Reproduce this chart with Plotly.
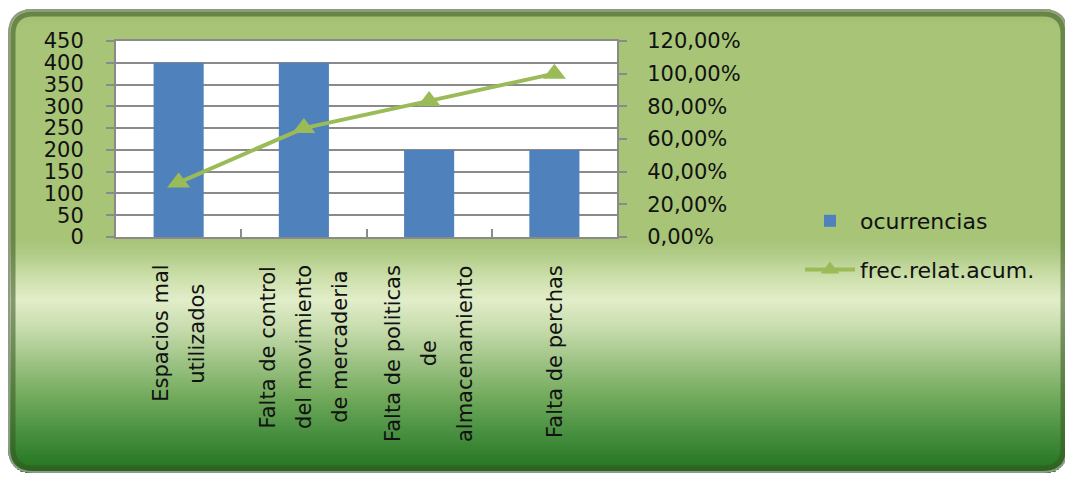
import math
import plotly.graph_objects as go

# ---------------- data ----------------
category_lines = [
    ["Espacios mal", "utilizados"],
    ["Falta de control", "del movimiento", "de mercaderia"],
    ["Falta de politicas", "de", "almacenamiento"],
    ["Falta de perchas"],
]
categories = [" ".join(l) for l in category_lines]
ocurrencias = [400, 400, 200, 200]
frec_relat_acum = [0.3333, 0.6667, 0.8333, 1.0]
y_left_ticks = [0, 50, 100, 150, 200, 250, 300, 350, 400, 450]
y_right_ticks = [0, 0.2, 0.4, 0.6, 0.8, 1.0, 1.2]

# ---------------- layout geometry ----------------
OFF = 8                      # page body margin offset
W, H = 1073 - OFF, 477 - OFF
PL, PT, PR, PB = 116, 41, 617, 237  # plot area in page px
FONT = "DejaVu Sans"
TXT = "#111111"


def px(x):
    return (x - PL) / (PR - PL)


def py(y):
    return (PB - y) / (PB - PT)


def hex2rgb(h):
    h = h.lstrip("#")
    return tuple(int(h[i:i + 2], 16) for i in (0, 2, 4))


stops = [
    (8, "#9fbd6d"), (25, "#a7c477"), (240, "#a7c477"), (255, "#b2cc88"),
    (280, "#cfe1ae"), (300, "#e2edc9"), (330, "#c5dbab"), (363, "#9cc283"),
    (397, "#72aa5c"), (430, "#4b9242"), (463, "#2a7a26"), (474, "#1f6a1c"),
]


def color_at(y):
    for (y0, c0), (y1, c1) in zip(stops[:-1], stops[1:]):
        if y0 <= y <= y1:
            t = (y - y0) / (y1 - y0)
            a, b = hex2rgb(c0), hex2rgb(c1)
            return "rgb(%d,%d,%d)" % tuple(round(a[k] + (b[k] - a[k]) * t) for k in range(3))
    return stops[-1][1] if y > stops[-1][0] else stops[0][1]


FX0, FY0, FX1, FY1, RAD = 8, 9, 1068, 473, 24
shapes = []
y = FY0
while y < FY1:
    yc = y + 1
    if yc < FY0 + RAD:
        d = FY0 + RAD - yc
    elif yc > FY1 - RAD:
        d = yc - (FY1 - RAD)
    else:
        d = 0
    inset = RAD - math.sqrt(max(RAD * RAD - d * d, 0)) if d > 0 else 0
    shapes.append(dict(type="rect", xref="paper", yref="paper", layer="below",
                       x0=px(FX0 + inset), x1=px(FX1 - inset), y0=py(y), y1=py(min(y + 3, FY1)),
                       fillcolor=color_at(yc), line=dict(width=0)))
    y += 2

# white plot area
shapes.append(dict(type="rect", xref="paper", yref="paper", layer="below",
                   x0=0, x1=1, y0=0, y1=1, fillcolor="white", line=dict(width=0)))


def rrect(x0, y0, x1, y1, r):
    pts = [
        ("M", [(x0 + r, y0)]), ("L", [(x1 - r, y0)]), ("Q", [(x1, y0), (x1, y0 + r)]),
        ("L", [(x1, y1 - r)]), ("Q", [(x1, y1), (x1 - r, y1)]), ("L", [(x0 + r, y1)]),
        ("Q", [(x0, y1), (x0, y1 - r)]), ("L", [(x0, y0 + r)]), ("Q", [(x0, y0), (x0 + r, y0)]),
    ]
    s = ""
    for cmd, ps in pts:
        s += cmd + " ".join("%.5f,%.5f" % (px(a), py(b)) for a, b in ps) + " "
    return s + "Z"


shapes.append(dict(type="path", xref="paper", yref="paper", layer="below",
                   path=rrect(13, 14, 1063, 468, 20),
                   line=dict(color="rgba(55,85,35,0.55)", width=5)))
shapes.append(dict(type="path", xref="paper", yref="paper", layer="below",
                   path=rrect(FX0 + 1, FY0 + 1, FX1 - 1, FY1 - 1, RAD),
                   line=dict(color="#8f9a88", width=2)))

# ---------------- traces ----------------
fig = go.Figure()
fig.add_trace(go.Bar(x=categories, y=ocurrencias, name="ocurrencias",
                     marker=dict(color="#4f81bd", line=dict(width=0)), width=0.4,
                     legendgroup="a", yaxis="y"))
fig.add_trace(go.Scatter(x=categories, y=frec_relat_acum, name="frec.relat.acum.",
                         mode="lines+markers", line=dict(color="#9bbb59", width=4),
                         marker=dict(symbol="triangle-up", size=20, color="#9bbb59"),
                         legendgroup="b", yaxis="y2"))

# category labels (rotated, centred lines)
LINE_GAP = 36.0
native = 1.3 * 21
annotations = []
for i, lines in enumerate(category_lines):
    n = len(lines)
    for j in range(n):
        parts = []
        for k, ln in enumerate(lines):
            parts.append(ln if k == j else "<span style='color:rgba(0,0,0,0)'>%s</span>" % ln)
        annotations.append(dict(
            x=categories[i], xref="x", y=py(263), yref="paper",
            xanchor="center", yanchor="top", textangle=-90, align="center",
            showarrow=False, text="<br>".join(parts),
            xshift=(j - (n - 1) / 2) * (LINE_GAP - native),
            font=dict(family=FONT, size=21, color=TXT)))

grid = "#8a8a8a"
fig.update_layout(
    width=W, height=H,
    margin=dict(l=PL - OFF, r=W - (PR - OFF), t=PT - OFF, b=H - (PB - OFF), pad=0),
    paper_bgcolor="white", plot_bgcolor="white",
    separators=",.",
    font=dict(family=FONT, size=21, color=TXT),
    shapes=shapes, annotations=annotations,
    bargap=0.6,
    showlegend=True,
    legend=dict(x=px(800), y=py(200), xanchor="left", yanchor="top",
                bgcolor="rgba(0,0,0,0)", traceorder="grouped", tracegroupgap=17,
                font=dict(family=FONT, size=22, color=TXT), itemwidth=50),
    xaxis=dict(type="category", range=[-0.5, 3.5], showticklabels=False,
               ticks="inside", tickson="boundaries", ticklen=8, tickwidth=2, tickcolor=grid,
               showline=True, linecolor=grid, linewidth=2, mirror=True, showgrid=False,
               zeroline=False),
    yaxis=dict(range=[0, 450], tickmode="array", tickvals=y_left_ticks,
               showgrid=True, gridcolor=grid, gridwidth=2,
               ticks="outside", ticklen=8, tickwidth=2, tickcolor=grid,
               showline=True, linecolor=grid, linewidth=2, zeroline=False,
               ticklabelstandoff=18, tickfont=dict(family=FONT, size=21, color=TXT)),
    yaxis2=dict(range=[0, 1.2], overlaying="y", side="right", tickmode="array",
                tickvals=y_right_ticks, tickformat=".2%", showgrid=False,
                ticks="outside", ticklen=8, tickwidth=2, tickcolor=grid,
                showline=True, linecolor=grid, linewidth=2, zeroline=False,
                ticklabelstandoff=16, tickfont=dict(family=FONT, size=21, color=TXT)),
)

fig.write_html("out.html")
